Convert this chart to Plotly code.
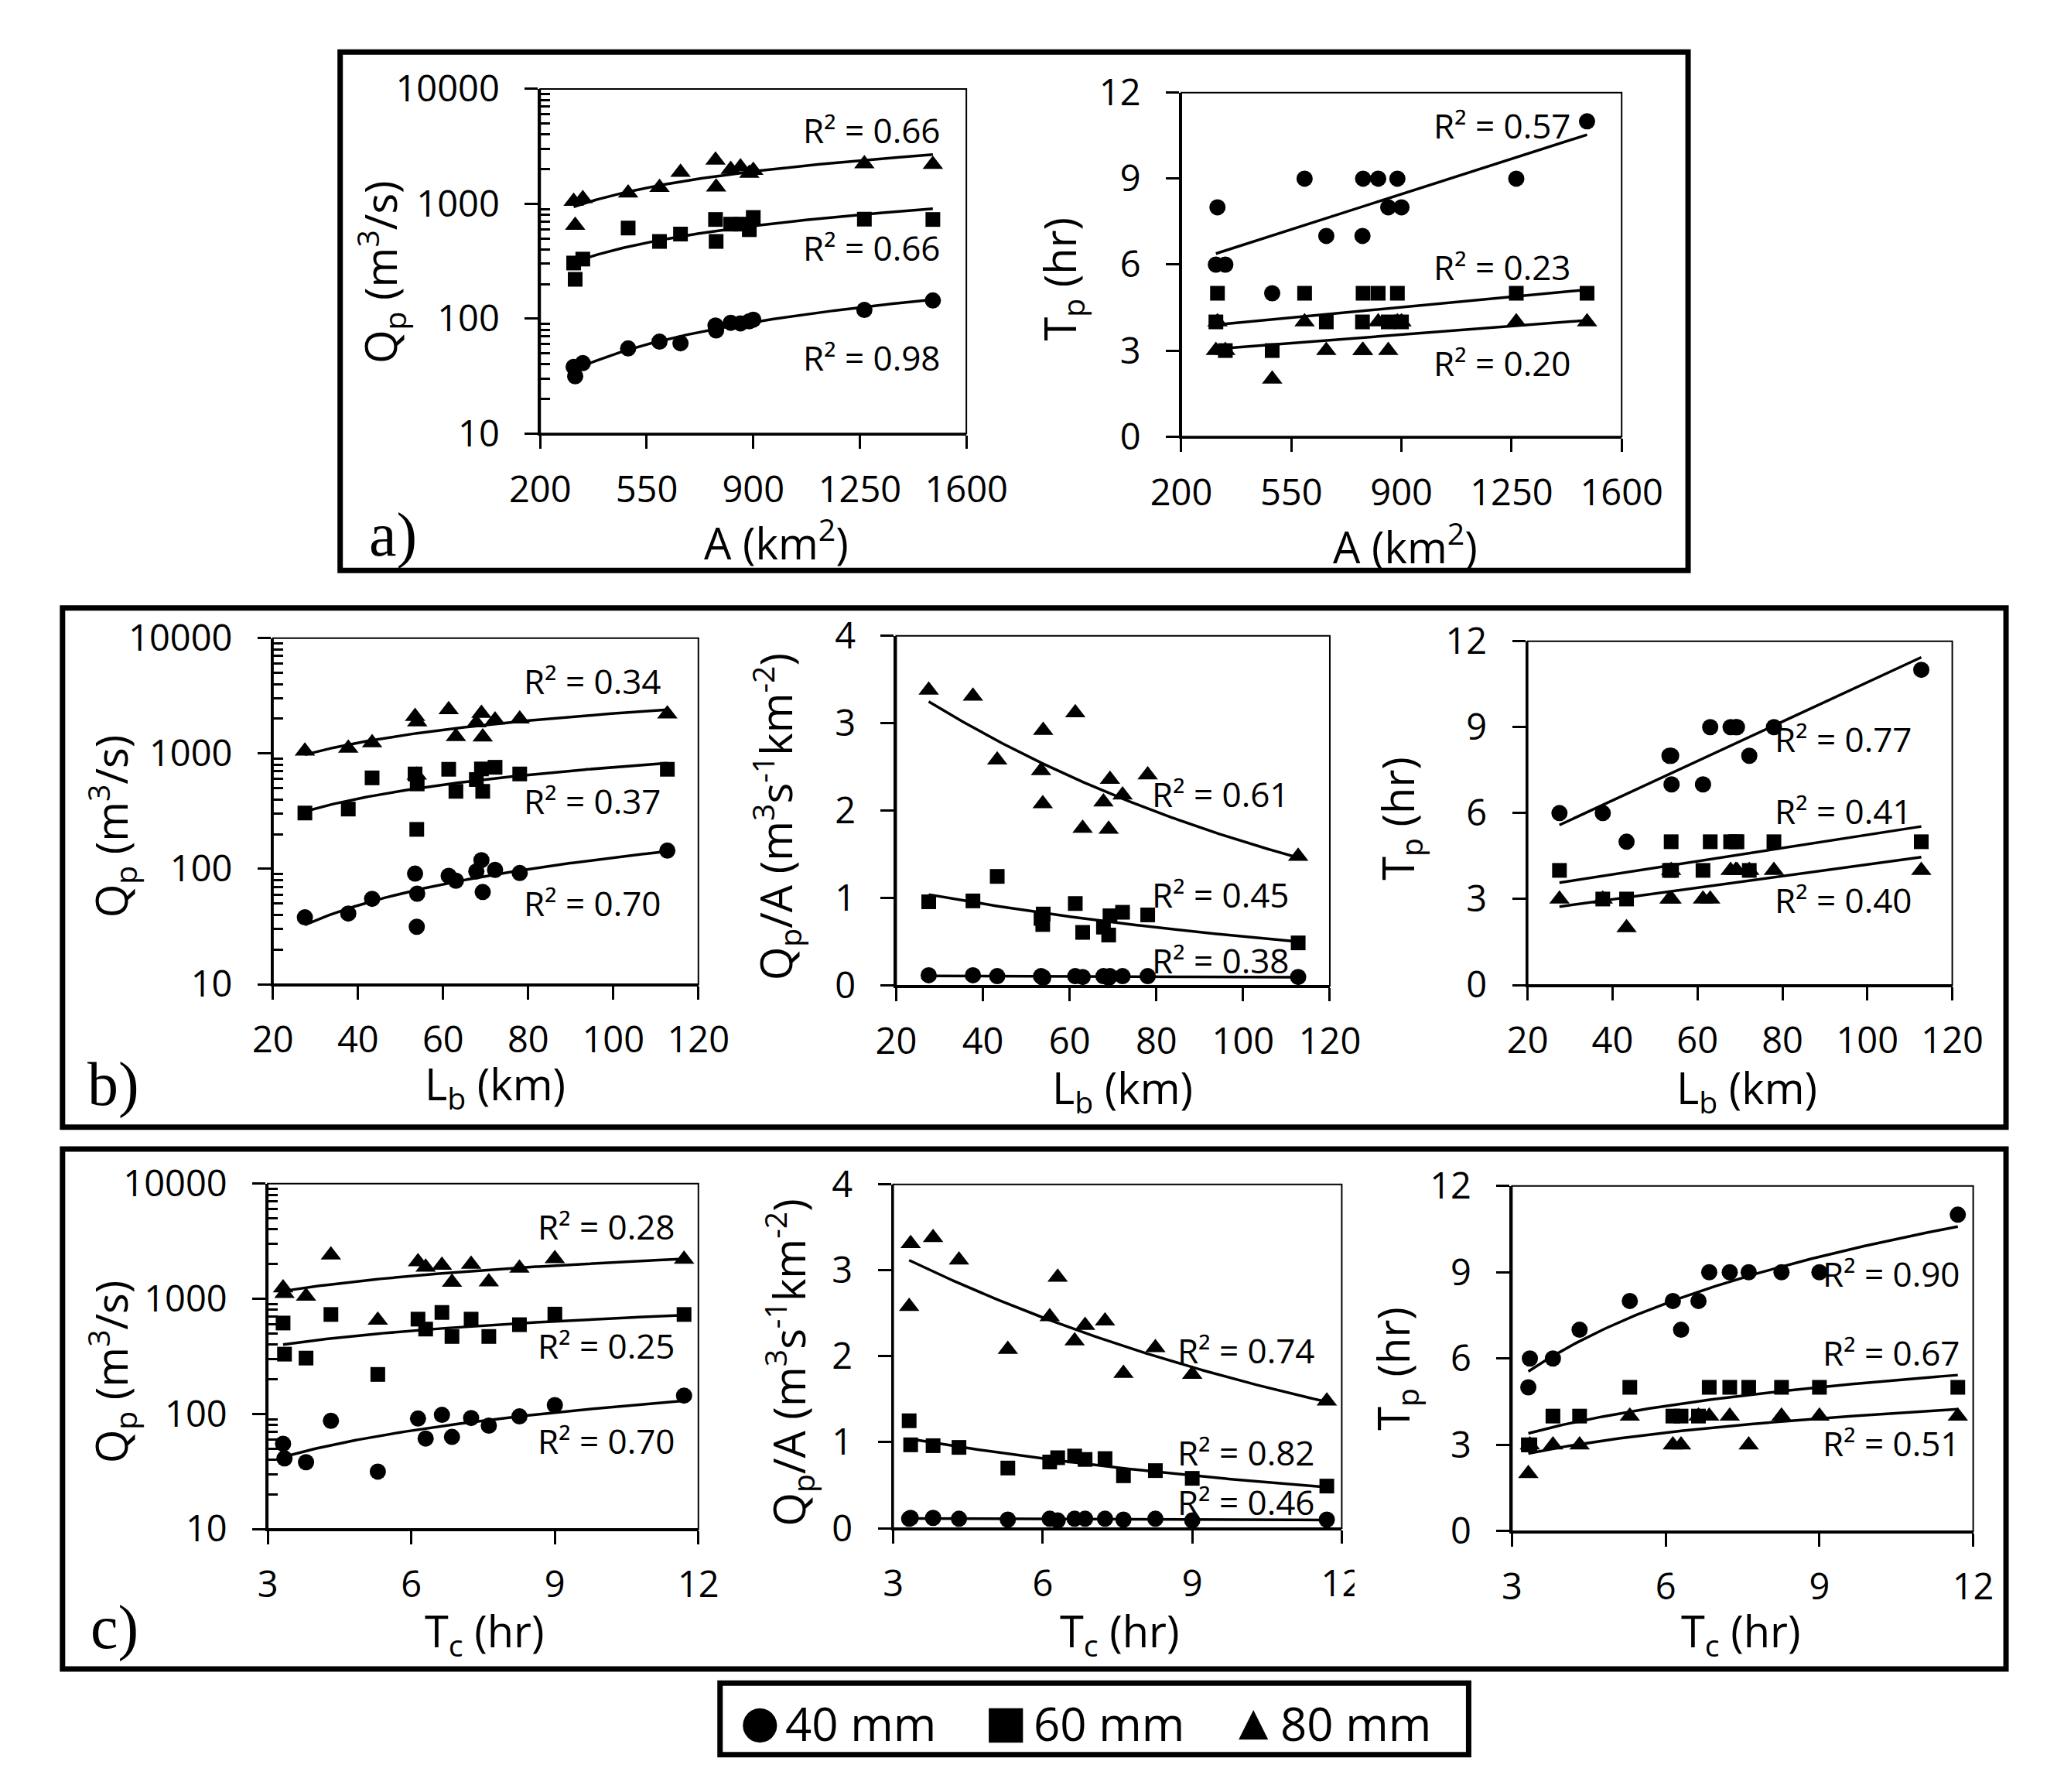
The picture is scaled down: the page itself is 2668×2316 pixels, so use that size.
import numpy as np
import plotly.graph_objects as go

W, H = 2668, 2316
FONT = "Open Sans, Noto Sans, sans-serif"

# one entry per watershed (same order in every list)
area_km2 = [310, 315, 340, 489, 592, 661, 776, 778, 826, 858, 887, 900, 1265, 1490]
basin_len_km = [27.5, 53.8, 37.7, 43.3, 69.3, 53.9, 61.3, 63.0, 78.0, 53.4, 67.8, 72.2, 69.0, 112.7]
tc_hr = [3.80, 5.30, 3.35, 3.32, 6.85, 6.30, 4.32, 7.62, 7.25, 6.14, 8.26, 6.64, 9.00, 11.70]

# peak discharge (m3/s) for 40, 60, 80 mm rainfall
qp_40 = [38, 31.5, 41, 55, 63, 61, 87, 79, 92, 91, 95, 98, 119, 144]
qp_60 = [305, 220, 330, 615, 470, 545, 730, 470, 665, 665, 595, 760, 735, 730]
qp_80 = [1050, 650, 1110, 1240, 1390, 1880, 2400, 1400, 1990, 2090, 1840, 1950, 2230, 2200]

# specific peak discharge (m3 s-1 km-2)
qpa_40 = [0.12, 0.10, 0.12, 0.11, 0.11, 0.09, 0.11, 0.10, 0.11, 0.11, 0.11, 0.11, 0.09, 0.10]
qpa_60 = [0.96, 0.70, 0.97, 1.25, 0.80, 0.82, 0.94, 0.61, 0.81, 0.77, 0.67, 0.84, 0.58, 0.49]
qpa_80 = [3.38, 2.08, 3.31, 2.58, 2.36, 2.92, 3.12, 1.80, 2.41, 2.46, 2.10, 2.18, 1.79, 1.48]

# time to peak (hr)
tp_40 = [6, 8, 6, 5, 9, 7, 7, 9, 9, 8, 9, 8, 9, 11]
tp_60 = [4, 5, 3, 3, 5, 4, 4, 5, 5, 4, 5, 4, 5, 5]
tp_80 = [3, 4, 3, 2, 4, 3, 3, 3, 4, 3, 4, 4, 4, 4]

depth_labels = ["40 mm", "60 mm", "80 mm"]
symbols = ["circle", "square", "triangle-up"]
sizes = [21, 19, 23]

# R² of the trendlines (40, 60, 80 mm)
r2_a_qp = ["0.98", "0.66", "0.66"]
r2_a_tp = ["0.57", "0.23", "0.20"]
r2_b_qp = ["0.70", "0.37", "0.34"]
r2_b_qpa = ["0.38", "0.45", "0.61"]
r2_b_tp = ["0.77", "0.41", "0.40"]
r2_c_qp = ["0.70", "0.25", "0.28"]
r2_c_qpa = ["0.46", "0.82", "0.74"]
r2_c_tp = ["0.90", "0.67", "0.51"]

QP = [qp_40, qp_60, qp_80]
QPA = [qpa_40, qpa_60, qpa_80]
TP = [tp_40, tp_60, tp_80]

X_A = dict(range=[200, 1600], tickvals=[200, 550, 900, 1250, 1600])
X_LB = dict(range=[20, 120], tickvals=[20, 40, 60, 80, 100, 120])
X_TC = dict(range=[3, 12], tickvals=[3, 6, 9, 12])
Y_QP = dict(type="log", range=[1, 4], tickvals=[10, 100, 1000, 10000],
            ticktext=["10", "100", "1000", "10000"])
Y_TP = dict(range=[0, 12], tickvals=[0, 3, 6, 9, 12])
Y_QPA = dict(range=[0, 4], tickvals=[0, 1, 2, 3, 4])

TITLE_QP = "Q<sub>p</sub> (m<sup>3</sup>/s)"
TITLE_QPA = "Q<sub>p</sub>/A (m<sup>3</sup>s<sup>-1</sup>km<sup>-2</sup>)"
TITLE_TP = "T<sub>p</sub> (hr)"
TITLE_A = "A (km<sup>2</sup>)"
TITLE_LB = "L<sub>b</sub> (km)"
TITLE_TC = "T<sub>c</sub> (hr)"

# panel: x data, y series, trend type, plot box in px (l, r, t, b), axis titles + centres, R² label spots
panels = [
    dict(x=area_km2, ys=QP, fit="power", box=(674, 1245, 75, 533), xa=X_A, ya=Y_QP,
         xt=(TITLE_A, 990, 675), yt=(TITLE_QP, 460, 318),
         r2=r2_a_qp, r2x=1520, r2y=[46, 417, 4360]),
    dict(x=area_km2, ys=TP, fit="linear", box=(1533, 2123, 80, 537), xa=X_A, ya=Y_TP,
         xt=(TITLE_A, 1833, 680), yt=(TITLE_TP, 1373, 328),
         r2=r2_a_tp, r2x=1445, r2y=[10.86, 5.93, 2.58]),
    dict(x=basin_len_km, ys=QP, fit="power", box=(316, 886, 805, 1265), xa=X_LB, ya=Y_QP,
         xt=(TITLE_LB, 614, 1400), yt=(TITLE_QP, 99, 1055),
         r2=r2_b_qp, r2x=111.6, r2y=[50.5, 391, 4235]),
    dict(x=basin_len_km, ys=QPA, fit="exp", box=(1151, 1732, 802, 1267), xa=X_LB, ya=Y_QPA,
         xt=(TITLE_LB, 1454, 1405), yt=(TITLE_QPA, 990, 1043),
         r2=r2_b_qpa, r2x=111.0, r2y=[0.29, 1.04, 2.19]),
    dict(x=basin_len_km, ys=TP, fit="linear", box=(1997, 2566, 809, 1266), xa=X_LB, ya=Y_TP,
         xt=(TITLE_LB, 2291, 1405), yt=(TITLE_TP, 1825, 1045),
         r2=r2_b_tp, r2x=110.9, r2y=[8.6, 6.08, 2.97]),
    dict(x=tc_hr, ys=QP, fit="power", box=(309, 886, 1530, 1989), xa=X_TC, ya=Y_QP,
         xt=(TITLE_TC, 599, 2127), yt=(TITLE_QP, 99, 1780),
         r2=r2_c_qp, r2x=11.55, r2y=[58, 391, 4256]),
    dict(x=tc_hr, ys=QPA, fit="exp", box=(1147, 1748, 1531, 1988), xa=X_TC, ya=Y_QPA,
         xt=(TITLE_TC, 1450, 2127), yt=(TITLE_QPA, 1007, 1768),
         r2=r2_c_qpa, r2x=11.5, r2y=[0.31, 0.88, 2.07]),
    dict(x=tc_hr, ys=TP, fit="log", box=(1976, 2594, 1533, 1992), xa=X_TC, ya=Y_TP,
         xt=(TITLE_TC, 2282, 2127), yt=(TITLE_TP, 1820, 1776),
         r2=r2_c_tp, r2x=11.78, r2y=[8.95, 6.21, 3.06]),
]


def trend(x, y, kind):
    # least-squares trendlines in the same forms a spreadsheet offers
    x = np.asarray(x, float)
    y = np.asarray(y, float)
    xs = np.linspace(x.min(), x.max(), 150)
    if kind == "linear":
        b, a = np.polyfit(x, y, 1)
        return xs, a + b * xs
    if kind == "log":
        b, a = np.polyfit(np.log(x), y, 1)
        return xs, a + b * np.log(xs)
    if kind == "exp":
        b, lna = np.polyfit(x, np.log(y), 1)
        return xs, np.exp(lna + b * xs)
    b, lna = np.polyfit(np.log(x), np.log(y), 1)
    return xs, np.exp(lna) * xs ** b


def px(xp):
    return xp / W


def py(yp):
    return 1 - yp / H


fig = go.Figure()
shapes = []
annotations = []
layout = {}

for i, p in enumerate(panels):
    k = i + 1
    xn = "x" if k == 1 else f"x{k}"
    yn = "y" if k == 1 else f"y{k}"
    l, r, t, b = p["box"]
    is_log = p["ya"].get("type") == "log"

    for j in range(3):
        fig.add_trace(go.Scatter(
            x=p["x"], y=p["ys"][j], mode="markers", xaxis=xn, yaxis=yn,
            marker=dict(symbol=symbols[j], size=sizes[j], color="black"),
            showlegend=False, cliponaxis=False))
        xs, ys = trend(p["x"], p["ys"][j], p["fit"])
        fig.add_trace(go.Scatter(
            x=xs, y=ys, mode="lines", xaxis=xn, yaxis=yn,
            line=dict(color="black", width=3.5), showlegend=False, hoverinfo="skip"))

        ry = np.log10(p["r2y"][j]) if is_log else p["r2y"][j]
        annotations.append(dict(
            x=p["r2x"], y=ry, xref=xn, yref=yn, xanchor="right", yanchor="middle",
            text=f"R² = {p['r2'][j]}", showarrow=False,
            font=dict(family=FONT, size=44, color="black")))

    common = dict(showline=True, linewidth=3, linecolor="black", ticks="outside",
                  ticklen=17, tickwidth=2.5, tickcolor="black", showgrid=False,
                  zeroline=False, tickfont=dict(family=FONT, size=47, color="black"))
    xa = dict(common, domain=[px(l), px(r)], anchor=yn, ticklabelstandoff=12, **p["xa"])
    ya = dict(common, domain=[py(b), py(t)], anchor=xn, ticklabelstandoff=23, **p["ya"])
    if is_log:
        ya["minor"] = dict(ticks="inside", ticklen=13, tickwidth=2.5, tickcolor="black",
                           tickvals=[m * 10 ** d for d in range(1, 4) for m in range(2, 10)])
    layout["xaxis" if k == 1 else f"xaxis{k}"] = xa
    layout["yaxis" if k == 1 else f"yaxis{k}"] = ya

    # thin plot-area frame
    shapes.append(dict(type="rect", xref=f"{xn} domain", yref=f"{yn} domain",
                       x0=0, x1=1, y0=0, y1=1, line=dict(color="black", width=2)))

    ttl, tx, ty = p["xt"]
    annotations.append(dict(x=px(tx), y=py(ty), xref="paper", yref="paper", text=ttl,
                            showarrow=False, xanchor="center", yanchor="middle",
                            font=dict(family=FONT, size=56, color="black")))
    ttl, tx, ty = p["yt"]
    annotations.append(dict(x=px(tx), y=py(ty), xref="paper", yref="paper", text=ttl,
                            showarrow=False, xanchor="center", yanchor="middle", textangle=-90,
                            font=dict(family=FONT, size=56, color="black")))

# the middle chart of row c is cropped just after its last tick label
shapes.append(dict(type="rect", xref="paper", yref="paper", layer="above",
                   x0=px(1765), x1=px(1800), y0=py(2100), y1=py(2025),
                   fillcolor="white", line=dict(width=0)))

# outer boxes around each row of panels and the legend
for x0, x1, y0, y1 in [(406, 2212, 26, 715), (34, 2638, 765, 1455),
                       (34, 2638, 1484, 2175), (915, 1918, 2194, 2289)]:
    shapes.append(dict(type="rect", xref="paper", yref="paper",
                       x0=px(x0), x1=px(x1), y0=py(y1), y1=py(y0),
                       line=dict(color="black", width=7)))

for lab, lx, ly in [("a)", 477, 668), ("b)", 102, 1398), ("c)", 104, 2120)]:
    annotations.append(dict(x=px(lx), y=py(ly), xref="paper", yref="paper", text=lab,
                            showarrow=False, xanchor="center", yanchor="middle",
                            font=dict(family="Liberation Serif, serif", size=80, color="black")))

# legend drawn as text so the symbols can be as large as in the original
for glyph, gx, gsize, lab, lx in [("●", 969, 58, depth_labels[0], 1103),
                                  ("■", 1298, 58, depth_labels[1], 1436),
                                  ("▲", 1630, 50, depth_labels[2], 1767)]:
    annotations.append(dict(x=px(gx), y=py(2245), xref="paper", yref="paper", text=glyph,
                            showarrow=False, xanchor="center", yanchor="middle",
                            font=dict(family="DejaVu Sans", size=gsize, color="black")))
    annotations.append(dict(x=px(lx), y=py(2247), xref="paper", yref="paper", text=lab,
                            showarrow=False, xanchor="center", yanchor="middle",
                            font=dict(family=FONT, size=60, color="black")))

fig.update_layout(
    width=W, height=H, margin=dict(l=0, r=0, t=0, b=0),
    paper_bgcolor="white", plot_bgcolor="white",
    shapes=shapes, annotations=annotations, showlegend=False, **layout)

fig.write_html("out.html")
